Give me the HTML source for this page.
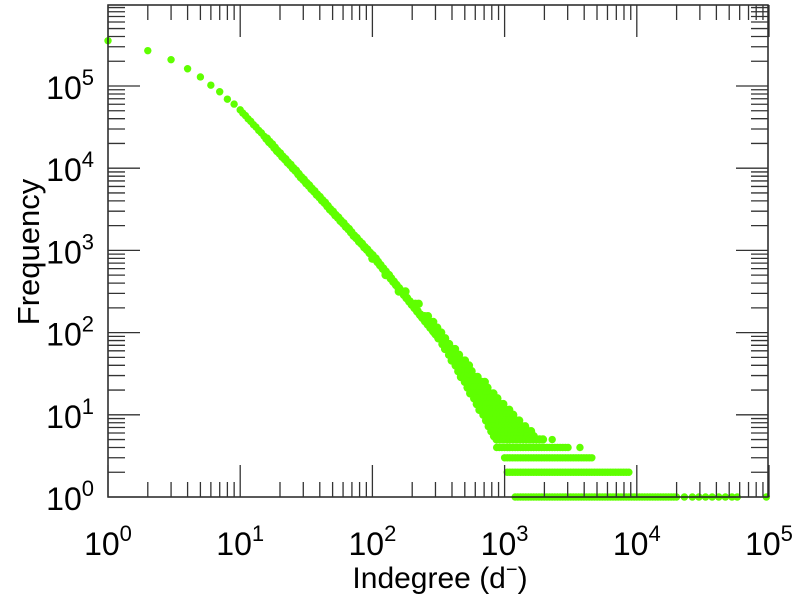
<!DOCTYPE html>
<html><head><meta charset="utf-8"><style>
html,body{margin:0;padding:0;background:#fff;}
svg{display:block;font-family:"Liberation Sans",sans-serif;}
</style></head><body>
<svg id="chart" width="803" height="600" viewBox="0 0 803 600">
<g id="marks"></g>
<g id="axes"></g>
<text x="440" y="588" font-size="30" text-anchor="middle" fill="#000">Indegree (d<tspan dy="-12" font-size="20">−</tspan><tspan dy="12">)</tspan></text>
<text transform="translate(39,252) rotate(-90)" font-size="31" text-anchor="middle" fill="#000">Frequency</text>
</svg>
<script>
// log10(degree), log10(frequency) of the main curve
const curveDegLog=[0,0.301,0.477,0.602,0.699,0.778,0.845,0.903,0.954,
1.0,1.02,1.04,1.06,1.08,1.1,1.12,1.14,1.16,1.18,1.2,1.22,1.24,1.26,1.28,1.3,1.32,1.34,1.36,1.38,1.4,1.42,1.44,1.46,1.48,1.5,1.52,1.54,1.56,1.58,1.6,1.62,1.64,1.66,1.68,1.7,1.72,1.74,1.76,1.78,1.8,1.82,1.84,1.86,1.88,1.9,1.92,1.94,1.96,1.98,2.0,
2.02,2.04,2.06,2.08,2.1,2.12,2.14,2.16,2.18,2.2,2.22,2.24,2.26,2.28,2.3,2.32,2.34,2.36,2.38,2.4,2.42,2.44,2.46,2.48,2.5];
const curveFreqLog=[5.55,5.43,5.32,5.21,5.11,5.01,4.93,4.84,4.78,
4.71,4.67,4.64,4.60,4.57,4.53,4.50,4.46,4.43,4.39,4.36,4.32,4.29,4.25,4.21,4.18,4.14,4.11,4.07,4.04,4.00,3.97,3.93,3.89,3.86,3.82,3.79,3.75,3.72,3.68,3.65,3.61,3.58,3.54,3.50,3.47,3.43,3.40,3.36,3.33,3.29,3.26,3.22,3.18,3.15,3.11,3.08,3.04,3.01,2.97,2.94,
2.90,2.86,2.82,2.78,2.74,2.70,2.66,2.62,2.58,2.54,2.50,2.46,2.42,2.38,2.34,2.30,2.26,2.22,2.18,2.14,2.10,2.06,2.02,1.98,1.94];
// tail cloud rows: frequency level (log), degree range (log)
const cloudRowFreqLog=[2.9,2.7,2.5,2.35,2.2,2.13,2.06,2.0,1.93,1.86,1.8,1.73,1.66,1.6,1.53,1.46,1.4,1.33,1.26,1.2,1.13,1.06,1.0,0.93,0.86,0.8,0.74,0.7];
const cloudRowStartLog=[2.0,2.1,2.2,2.3,2.37,2.41,2.44,2.47,2.5,2.53,2.55,2.58,2.6,2.63,2.65,2.67,2.7,2.72,2.74,2.77,2.79,2.81,2.84,2.86,2.88,2.9,2.92,2.94];
const cloudRowEndLog=[2.03,2.14,2.25,2.35,2.43,2.47,2.5,2.53,2.56,2.6,2.63,2.67,2.7,2.74,2.77,2.81,2.85,2.88,2.92,2.96,3.0,3.04,3.08,3.12,3.16,3.2,3.24,3.3];
// horizontal bands of small counts: frequency, start/end log10(degree)
const bandFreq=[1,2,3,4];
const bandStartLog=[3.08,3.02,3.0,2.94];
const bandEndLog=[4.3,3.95,3.67,3.5];
// sparse points beyond the dense bands
const sparseDegLog=[4.36,4.42,4.47,4.52,4.57,4.62,4.67,4.72,4.76,4.98,3.57,3.36];
const sparseFreq=[1,1,1,1,1,1,1,1,1,1,4,5];

const X0=108,XS=132.2,Y0=497,YS=82.2;
const xs=l=>X0+l*XS, ys=l=>Y0-l*YS;
const NS="http://www.w3.org/2000/svg";
const marks=document.getElementById('marks');
function dot(lx,ly,name,r){
  const c=document.createElementNS(NS,'circle');
  c.setAttribute('cx',xs(lx));c.setAttribute('cy',ys(ly));c.setAttribute('r',r||3.7);
  c.setAttribute('fill','#5fff00');
  
  
  marks.appendChild(c);
}
curveDegLog.forEach((d,i)=>dot(d,curveFreqLog[i],'curve-point',d>=1.2?4.4:3.7));
cloudRowFreqLog.forEach((f,i)=>{
  for(let l=cloudRowStartLog[i];l<=cloudRowEndLog[i]+1e-9;l+=0.025) dot(l,f,'tail-point',4.2);
});
bandFreq.forEach((f,i)=>{
  for(let l=bandStartLog[i];l<=bandEndLog[i];l+=0.02) dot(l,Math.log10(f),'band-point');
});
sparseDegLog.forEach((d,i)=>dot(d,Math.log10(sparseFreq[i]),'sparse-point'));

const axes=document.getElementById('axes');
const L=108,R=768,T=5,B=497;
function line(x1,y1,x2,y2,name){
  const e=document.createElementNS(NS,'line');
  e.setAttribute('x1',x1);e.setAttribute('y1',y1);e.setAttribute('x2',x2);e.setAttribute('y2',y2);
  e.setAttribute('stroke','#333');e.setAttribute('stroke-width',1.3);
  
  
  axes.appendChild(e);
}
const fr=document.createElementNS(NS,'rect');
fr.setAttribute('x',L);fr.setAttribute('y',T);fr.setAttribute('width',R-L);fr.setAttribute('height',B-T);
fr.setAttribute('fill','none');fr.setAttribute('stroke','#222');fr.setAttribute('stroke-width',1.5);


axes.appendChild(fr);
const xTickLabels=['0','1','2','3','4','5'];
const yTickLabels=['0','1','2','3','4','5'];
for(let d=0;d<=5;d++){
  for(let m=1;m<=9;m++){
    const l=d+Math.log10(m); if(l>5)break;
    const x=xs(l), len=m===1?32:15;
    line(x,B,x,B-len,'x-tick');line(x,T,x,T+len,'x-tick');
  }
}
for(let d=0;d<=6;d++){
  for(let m=1;m<=9;m++){
    const l=d+Math.log10(m); const y=ys(l); if(y<T)break;
    const len=m===1?32:17;
    line(L,y,L+len,y,'y-tick');line(R,y,R-len,y,'y-tick');
  }
}
xTickLabels.forEach((t,i)=>{
  const e=document.createElementNS(NS,'text');
  e.setAttribute('x',xs(i));e.setAttribute('y',555);e.setAttribute('font-size',32);e.setAttribute('text-anchor','middle');
  e.innerHTML='10<tspan dy="-14" font-size="22">'+t+'</tspan>';
  
  
  axes.appendChild(e);
});
yTickLabels.forEach((t,i)=>{
  const e=document.createElementNS(NS,'text');
  e.setAttribute('x',94);e.setAttribute('y',ys(i)+13);e.setAttribute('font-size',32);e.setAttribute('text-anchor','end');
  e.innerHTML='10<tspan dy="-14" font-size="22">'+t+'</tspan>';
  
  
  axes.appendChild(e);
});
</script>
</body></html>
